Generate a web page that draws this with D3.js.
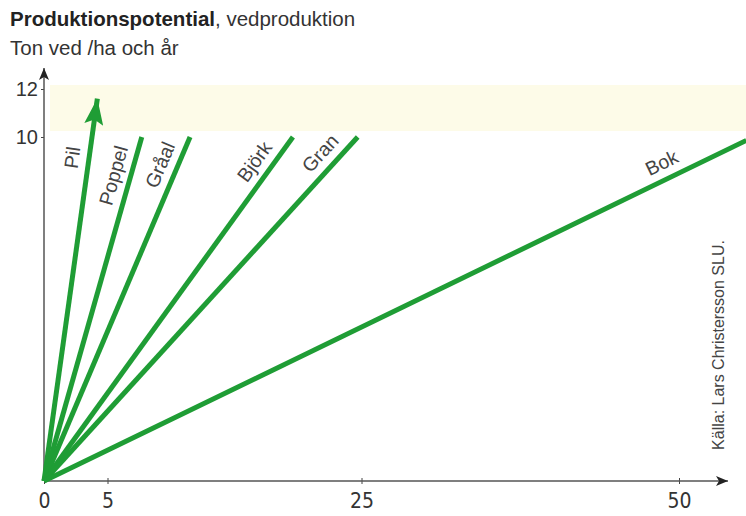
<!DOCTYPE html>
<html>
<head>
<meta charset="utf-8">
<script src="https://cdn.jsdelivr.net/npm/d3@7"></script>
<style>
  body { margin: 0; background: #fff; }
  text { font-family: "Liberation Sans", Arial, sans-serif; }
</style>
</head>
<body>
<svg id="chart" width="746" height="516"></svg>
<script>
// Data
const species = ["Pil", "Poppel", "Gråal", "Björk", "Gran", "Bok"];
const endX = [4.2, 7.7, 11.5, 19.6, 24.7, 55.3];
const endY = [11.6, 10, 10, 10, 10, 9.9];
const xTicks = [0, 5, 25, 50];
const yTicks = [10, 12];

// where along each line the label sits (fraction of its length)
const labelPos = [0.84, 0.875, 0.9, 0.9, 0.92, 0.89];

const svg = d3.select("#chart");
const green = "#1f9d35";

// scales - the y axis is squeezed above 10
const x = d3.scaleLinear().domain([0, 50]).range([44, 679]);
const y = d3.scaleLinear().domain([0, 10, 12]).range([481, 137, 89]);

// markers
const defs = svg.append("defs");
defs.append("marker")
    .attr("id", "axisArrow")
    .attr("markerUnits", "userSpaceOnUse")
    .attr("viewBox", "0 0 12 10")
    .attr("refX", 12).attr("refY", 5)
    .attr("markerWidth", 12).attr("markerHeight", 10)
    .attr("orient", "auto")
    .append("path").attr("d", "M0,0 L12,5 L0,10 L3,5 Z").attr("fill", "#222");
defs.append("marker")
    .attr("id", "pilArrow")
    .attr("markerUnits", "userSpaceOnUse")
    .attr("viewBox", "0 0 26 19")
    .attr("refX", 26).attr("refY", 9.5)
    .attr("markerWidth", 26).attr("markerHeight", 19)
    .attr("orient", "auto")
    .append("path").attr("d", "M0,0 L26,9.5 L0,19 L5,9.5 Z").attr("fill", green);

// pale band above 10
svg.append("rect")
    .attr("x", 50)
    .attr("y", y(12) - 4)
    .attr("width", 746 - 50)
    .attr("height", y(10) - y(12) - 2)
    .attr("fill", "#fdfbe8");

// Title
const title = svg.append("text").attr("x", 10).attr("y", 26)
    .attr("font-size", 20.5).attr("fill", "#222");
title.append("tspan").attr("font-weight", "bold").text("Produktionspotential");
title.append("tspan").attr("fill", "#333").text(", vedproduktion");

svg.append("text").attr("x", 10).attr("y", 55)
    .attr("font-size", 20.5).attr("fill", "#333")
    .text("Ton ved /ha och år");

// Axes
const xAxis = svg.append("g")
    .attr("transform", `translate(0,${y(0)})`)
    .call(d3.axisBottom(x).tickValues(xTicks).tickSize(3).tickPadding(9));
xAxis.select(".domain").remove();
xAxis.selectAll("text").attr("font-size", 21).attr("fill", "#333")
    .style("font-family", "'Liberation Sans Narrow', 'DejaVu Sans Condensed', sans-serif");
xAxis.selectAll("line").attr("stroke", "#444").attr("y1", -3);

const yAxis = svg.append("g")
    .attr("transform", `translate(${x(0)},0)`)
    .call(d3.axisLeft(y).tickValues(yTicks).tickSize(3).tickPadding(3));
yAxis.select(".domain").remove();
yAxis.selectAll("text").attr("font-size", 20).attr("fill", "#333");
yAxis.selectAll("line").attr("stroke", "#444");

svg.append("line")
    .attr("x1", x(0)).attr("y1", y(0))
    .attr("x2", 728).attr("y2", y(0))
    .attr("stroke", "#555").attr("stroke-width", 1.5)
    .attr("marker-end", "url(#axisArrow)");
svg.append("line")
    .attr("x1", x(0)).attr("y1", y(0))
    .attr("x2", x(0)).attr("y2", 68)
    .attr("stroke", "#555").attr("stroke-width", 1.5)
    .attr("marker-end", "url(#axisArrow)");

// Lines
const rows = species.map((s, i) => ({ name: s, x: endX[i], y: endY[i], t: labelPos[i] }));

svg.append("g").selectAll("line")
    .data(rows)
    .join("line")
    .attr("x1", x(0)).attr("y1", y(0))
    .attr("x2", d => x(d.x)).attr("y2", d => y(d.y))
    .attr("stroke", green)
    .attr("stroke-width", 5)
    .attr("marker-end", (d, i) => i === 0 ? "url(#pilArrow)" : null);

// Labels, parallel to the lines, on the upper-left side
svg.append("g").selectAll("text")
    .data(rows)
    .join("text")
    .attr("transform", d => {
        let dx = x(d.x) - x(0), dy = y(d.y) - y(0);
        let len = Math.sqrt(dx * dx + dy * dy);
        let px = x(0) + dx * d.t + (dy / len) * 17;
        let py = y(0) + dy * d.t + (-dx / len) * 17;
        let ang = Math.atan2(dy, dx) * 180 / Math.PI;
        return `translate(${px},${py}) rotate(${ang})`;
    })
    .attr("text-anchor", "middle")
    .attr("dominant-baseline", "central")
    .attr("font-size", 19.5)
    .attr("fill", "#444")
    .text(d => d.name);

// Source
svg.append("text")
    .attr("transform", "translate(724,345) rotate(-90)")
    .attr("text-anchor", "middle")
    .attr("font-size", 16)
    .attr("fill", "#444")
    .text("Källa: Lars Christersson SLU.");
</script>
</body>
</html>
